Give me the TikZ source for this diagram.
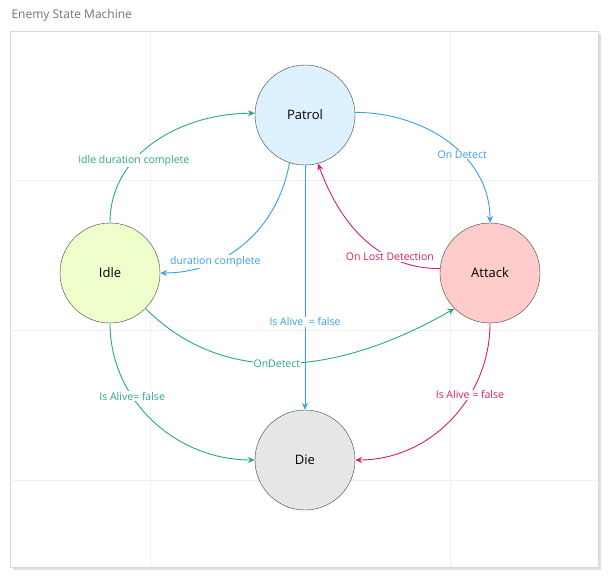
\documentclass[tikz,border=0pt]{standalone}
\usepackage{fontspec}
\setmainfont{Open Sans}
\usetikzlibrary{arrows.meta, positioning, shadows}
\definecolor{grn}{HTML}{2AA889}
\definecolor{blu}{HTML}{3A9FE4}
\definecolor{rd}{HTML}{D2216A}
\definecolor{patrolfill}{HTML}{DDF1FF}
\definecolor{idlefill}{HTML}{EEFFCC}
\definecolor{attackfill}{HTML}{FFCCCC}
\definecolor{diefill}{HTML}{E6E6E6}
\begin{document}
\begin{tikzpicture}[x=1pt,y=-1pt, >={Stealth[length=7pt,width=6pt]}, font=\fontsize{10.5}{12}\selectfont]
    \tikzstyle{state}=[circle, draw=black!75, minimum size=100pt, inner sep=0pt, font=\fontsize{13}{15}\selectfont]
    \tikzstyle{link}=[->, line width=0.9pt]
    \tikzstyle{lbl}=[fill=white, inner sep=1pt]

    % Frame and title
    \useasboundingbox (0,0) rectangle (610,578);
    \fill[white] (0,0) rectangle (610,578);
    \node[anchor=west, text=black!55, font=\fontsize{12}{14}\selectfont] (title) at (8,15) {Enemy State Machine};
    \draw[black!15, fill=white, drop shadow={opacity=0.25}] (10,31) rectangle (598,567);
    \foreach \x in {150,450}
        \draw[black!6] (\x,31) -- (\x,567);
    \foreach \y in {180,330,480}
        \draw[black!6] (10,\y) -- (598,\y);

    % States
    \node[state, fill=patrolfill] (patrol) at (305,115) {Patrol};
    \node[state, fill=idlefill] (idle) at (110,273) {Idle};
    \node[state, fill=attackfill] (attack) at (490,273) {Attack};
    \node[state, fill=diefill] (die) at (305,460) {Die};

    % Transitions
    \draw[link, grn] (idle.90) to[out=90, in=180] node[lbl, pos=0.35] {Idle duration complete} (patrol.178);
    \draw[link, blu] (patrol.252) to[out=260, in=0] node[lbl, pos=0.7] {duration complete} (idle.0);
    \draw[link, blu] (patrol.3) to[out=0, in=90] node[lbl, pos=0.6] {On Detect} (attack.90);
    \draw[link, rd] (attack.175) to[out=180, in=290] node[lbl, pos=0.3] {On Lost Detection} (patrol.285);
    \draw[link, color=blu, line width=1pt] (patrol.south) -- node[lbl, pos=0.64] {Is Alive\ \ = false} (die.north);
    \draw[link, grn] (idle.315) to[out=-45, in=210] node[lbl, pos=0.45] {OnDetect} (attack.225);
    \draw[link, grn] (idle.270) to[out=270, in=180] node[lbl, pos=0.35] {Is Alive= false} (die.180);
    \draw[link, rd] (attack.270) to[out=270, in=0] node[lbl, pos=0.35] {Is Alive = false} (die.0);
\end{tikzpicture}
\end{document}
